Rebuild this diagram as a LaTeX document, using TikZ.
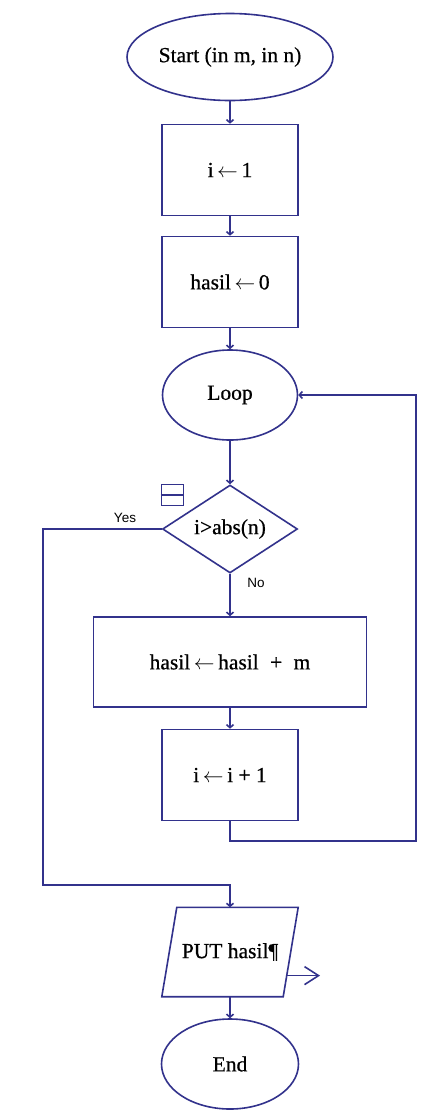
\documentclass[tikz,border=0pt]{standalone}
\usepackage{fontspec}
\setmainfont{Liberation Serif}
\newfontface\boxfont{Liberation Serif}[FakeBold=0.6]
\newfontfamily\labfont{Liberation Sans}
\usetikzlibrary{shapes.geometric,arrows.meta,calc}
\definecolor{linec}{RGB}{50,50,140}
\newcommand{\larr}{\,$\leftarrow$\,}
\begin{document}
\begin{tikzpicture}[x=1pt,y=-1pt,
  txt/.style={font=\boxfont\fontsize{21.5}{25}\selectfont, text=black},
  shapeline/.style={draw=linec, line width=1.6pt},
  term/.style={ellipse, shapeline, txt, inner sep=0pt},
  procbox/.style={rectangle, shapeline, txt, inner sep=0pt},
  decbox/.style={diamond, shapeline, txt, inner sep=0pt, minimum width=135pt, minimum height=88pt},
  iobox/.style={rectangle, txt, inner sep=0pt},
  conn/.style={draw=linec, line width=1.6pt, -{Straight Barb[length=3pt,width=7pt]}},
  plain/.style={draw=linec, line width=1.6pt},
  lab/.style={font=\labfont\fontsize{13.5}{16}\selectfont, text=black, inner sep=0pt}
]
\useasboundingbox[fill=white] (0,0) rectangle (422,1112);

\node[term, minimum width=206pt, minimum height=87pt, inner xsep=-14pt] (start) at (230,57) {Start (in m, in n)};
\node[procbox, minimum width=136pt, minimum height=91pt] (b1) at (230,170) {i\larr 1};
\node[procbox, minimum width=136pt, minimum height=91pt] (b2) at (230,282) {hasil\larr 0};
\node[term, minimum width=135pt, minimum height=90pt] (loop) at (230,395) {Loop};
\node[decbox, inner xsep=-4pt] (dec) at (230,529) {i>abs(n)};
\node[draw=linec, line width=1.6pt, minimum width=22pt, minimum height=21pt, inner sep=0pt] (icon) at (172.5,495) {};
\node[procbox, minimum width=273pt, minimum height=90pt] (b3) at (230,662) {hasil\larr hasil \;+\; m};
\node[procbox, minimum width=136pt, minimum height=91pt] (b4) at (230,775) {i\larr i + 1};
\node[iobox, minimum width=136pt, minimum height=89pt] (put) at (230,952) {PUT hasil¶};
\node[term, minimum width=137pt, minimum height=90pt] (end) at (230,1064) {End};

\draw[plain] (icon.west) -- (icon.east);
\draw[plain, line join=miter] (put.south west) -- ($(put.north west)+(15,0)$) -- (put.north east) -- ($(put.south east)-(15,0)$) -- cycle;

\node[lab] (yes) at (125,518) {Yes};
\node[lab] (no) at (256,583) {No};

\coordinate (yl1) at (dec.west -| 43,0);
\coordinate (yl2) at (43,885);
\coordinate (yl3) at (230,885);
\coordinate (lb1) at (230,841);
\coordinate (lb2) at (416,841);
\coordinate (lb3) at (loop.east -| 416,0);
\coordinate (outA) at ($(put.south east)!0.236!(put.north east)+(-11.5,0)$);
\coordinate (outB) at (320,976);

\draw[conn] (start) -- (b1);
\draw[conn] (b1) -- (b2);
\draw[conn] (b2) -- (loop);
\draw[conn] (loop) -- (dec);
\draw[conn] (dec.south) -- (b3.north);
\draw[conn] (b3) -- (b4);
\draw[conn] (dec.west) -- (yl1) -- (yl2) -- (yl3) -- (put.north);
\draw[conn] (b4.south) -- (lb1) -- (lb2) -- (lb3) -- (loop.east);
\draw[conn] (put.south) -- (end.north);
\draw[draw=linec, line width=1.6pt, -{Straight Barb[length=14pt,width=18pt]}] (outA) -- (outA -| outB);
\end{tikzpicture}
\end{document}
